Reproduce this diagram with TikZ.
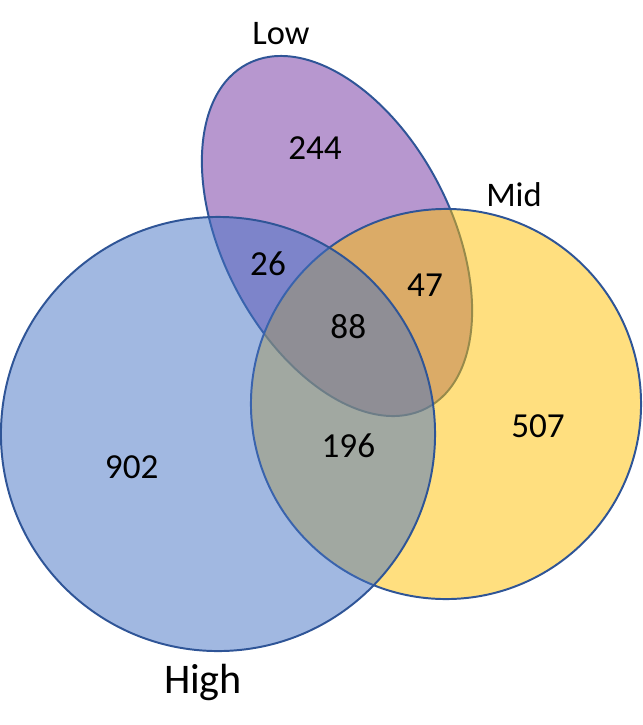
\documentclass[tikz,border=0pt]{standalone}
\usepackage{fontspec}
\setmainfont{Carlito}
\usepackage{xcolor}
\usepackage{tikz}
\definecolor{highblue}{HTML}{4472C4}
\definecolor{midyellow}{HTML}{FFC000}
\definecolor{lowpurple}{HTML}{7030A0}
\definecolor{edgeblue}{HTML}{2F5597}
\tikzset{
    setshape/.style={draw=edgeblue, line width=1.4pt, fill opacity=0.5},
    numtext/.style={anchor=base, inner sep=0pt, font=\fontsize{25}{30}\selectfont},
    settext/.style={anchor=base, inner sep=0pt, font=\fontsize{24.5}{29}\selectfont},
    hightext/.style={anchor=base, inner sep=0pt, font=\fontsize{30}{36}\selectfont}
}

\begin{document}
\begin{tikzpicture}[x=0.025cm, y=-0.025cm]
        \useasboundingbox (0,0) rectangle (643,725);

        % Low, then Mid, then High on top
        \draw[setshape, fill=lowpurple, rotate around={-62.5:(337,236)}]
            (337,236) ellipse [x radius=4.85cm, y radius=2.85cm];
        \draw[setshape, fill=midyellow] (446,404) circle [radius=4.875cm];
        \draw[setshape, fill=highblue] (218,434) circle [radius=5.425cm];

        % set names
        \node[settext] (low) at (281,44.3) {Low};
        \node[settext] (mid) at (514,206) {Mid};
        \node[hightext] (high) at (203,693.3) {High};

        % region counts
        \node[numtext] (lowonly) at (315,159.3) {244};
        \node[numtext] (lowhigh) at (268,275) {26};
        \node[numtext] (lowmid) at (425,296.7) {47};
        \node[numtext] (all) at (348.3,338.3) {88};
        \node[numtext] (midhigh) at (348.4,457.6) {196};
        \node[numtext] (midonly) at (538,437.4) {507};
        \node[numtext] (highonly) at (131.7,478.3) {902};
    \end{tikzpicture}
\end{document}
